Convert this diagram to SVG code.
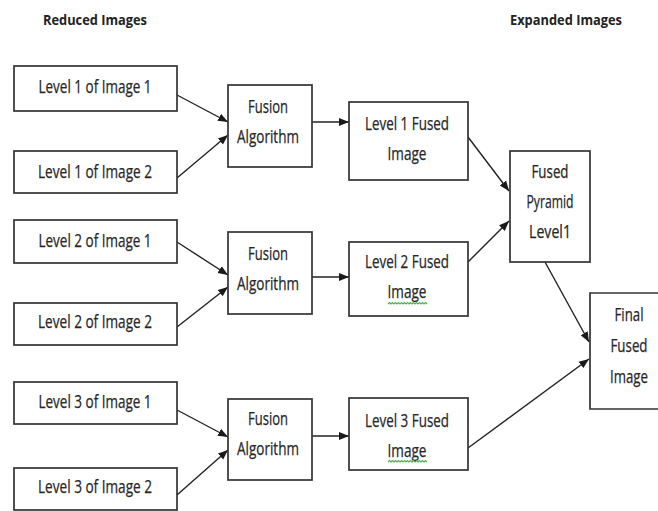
<svg xmlns="http://www.w3.org/2000/svg" width="658" height="511" viewBox="0 0 658 511">
  <defs>
    <marker id="arrow" markerUnits="userSpaceOnUse" markerWidth="10" markerHeight="10" viewBox="0 0 10 10" refX="10" refY="5" orient="auto">
      <path d="M0,1 L10,5 L0,9 Z" fill="#1a1a1a"/>
    </marker>
    <style>
      .box { fill: #ffffff; stroke: #333333; stroke-width: 1.7; }
      .lbl { font-family: "Open Sans", "Liberation Sans", sans-serif; font-size: 17.5px; fill: #262626; stroke: #262626; stroke-width: 0.25; text-anchor: middle; }
      .hdr { font-family: "Open Sans", "Liberation Sans", sans-serif; font-size: 14px; font-weight: bold; fill: #222222; }
      .edge { fill: none; stroke: #222222; stroke-width: 1.4; marker-end: url(#arrow); }
      .squiggle { fill: none; stroke: #4caf50; stroke-width: 1.1; }
    </style>
  </defs>
  <rect width="658" height="511" fill="#ffffff"/>

  <!-- column headers -->
  <text class="hdr" x="43" y="25" textLength="104" lengthAdjust="spacingAndGlyphs">Reduced Images</text>
  <text class="hdr" x="510" y="25" textLength="112" lengthAdjust="spacingAndGlyphs">Expanded Images</text>

  <!-- connectors -->
  <g id="connectors">
    <path class="edge" d="M177,95 L228,122"/>
    <path class="edge" d="M177,178 L228,135"/>
    <path class="edge" d="M312,122 L349,122"/>
    <path class="edge" d="M468,137 L509,191"/>
    <path class="edge" d="M177,242 L228,275"/>
    <path class="edge" d="M177,327 L228,287"/>
    <path class="edge" d="M312,277 L349,277"/>
    <path class="edge" d="M468,262 L509,221"/>
    <path class="edge" d="M545,262 L589,342"/>
    <path class="edge" d="M177,410 L228,437"/>
    <path class="edge" d="M177,495 L228,450"/>
    <path class="edge" d="M312,436 L349,436"/>
    <path class="edge" d="M468,448 L589,359"/>
  </g>

  <!-- level 1 -->
  <g id="l1-img1">
    <rect class="box" x="14" y="66" width="163" height="45"/>
    <text class="lbl" x="95" y="93" textLength="113" lengthAdjust="spacingAndGlyphs">Level 1 of Image 1</text>
  </g>
  <g id="l1-img2">
    <rect class="box" x="14" y="151" width="163" height="42"/>
    <text class="lbl" x="95" y="178" textLength="114" lengthAdjust="spacingAndGlyphs">Level 1 of Image 2</text>
  </g>
  <g id="fusion1">
    <rect class="box" x="228" y="85" width="84" height="82"/>
    <text class="lbl" x="268" y="113" textLength="40" lengthAdjust="spacingAndGlyphs">Fusion</text>
    <text class="lbl" x="268" y="143" textLength="62" lengthAdjust="spacingAndGlyphs">Algorithm</text>
  </g>
  <g id="l1-fused">
    <rect class="box" x="349" y="102" width="119" height="78"/>
    <text class="lbl" x="407" y="130" textLength="84" lengthAdjust="spacingAndGlyphs">Level 1 Fused</text>
    <text class="lbl" x="407" y="160" textLength="39" lengthAdjust="spacingAndGlyphs">Image</text>
  </g>

  <!-- level 2 -->
  <g id="l2-img1">
    <rect class="box" x="14" y="220" width="163" height="43"/>
    <text class="lbl" x="95" y="247" textLength="113" lengthAdjust="spacingAndGlyphs">Level 2 of Image 1</text>
  </g>
  <g id="l2-img2">
    <rect class="box" x="14" y="303" width="163" height="42"/>
    <text class="lbl" x="95" y="328" textLength="114" lengthAdjust="spacingAndGlyphs">Level 2 of Image 2</text>
  </g>
  <g id="fusion2">
    <rect class="box" x="228" y="232" width="84" height="82"/>
    <text class="lbl" x="268" y="260" textLength="40" lengthAdjust="spacingAndGlyphs">Fusion</text>
    <text class="lbl" x="268" y="290" textLength="62" lengthAdjust="spacingAndGlyphs">Algorithm</text>
  </g>
  <g id="l2-fused">
    <rect class="box" x="349" y="242" width="119" height="74"/>
    <text class="lbl" x="407" y="268" textLength="84" lengthAdjust="spacingAndGlyphs">Level 2 Fused</text>
    <text class="lbl" x="407" y="298" textLength="39" lengthAdjust="spacingAndGlyphs">Image</text>
    <!-- spell-check wave under the word -->
    <path class="squiggle" d="M388,304 l1.5,-1.5 l1.5,1.5 l1.5,-1.5 l1.5,1.5 l1.5,-1.5 l1.5,1.5 l1.5,-1.5 l1.5,1.5 l1.5,-1.5 l1.5,1.5 l1.5,-1.5 l1.5,1.5 l1.5,-1.5 l1.5,1.5 l1.5,-1.5 l1.5,1.5 l1.5,-1.5 l1.5,1.5 l1.5,-1.5 l1.5,1.5 l1.5,-1.5 l1.5,1.5 l1.5,-1.5 l1.5,1.5 l1.5,-1.5 l1.5,1.5"/>
  </g>

  <!-- level 3 -->
  <g id="l3-img1">
    <rect class="box" x="14" y="382" width="163" height="42"/>
    <text class="lbl" x="95" y="408" textLength="113" lengthAdjust="spacingAndGlyphs">Level 3 of Image 1</text>
  </g>
  <g id="l3-img2">
    <rect class="box" x="14" y="468" width="163" height="42"/>
    <text class="lbl" x="95" y="493" textLength="114" lengthAdjust="spacingAndGlyphs">Level 3 of Image 2</text>
  </g>
  <g id="fusion3">
    <rect class="box" x="228" y="399" width="84" height="81"/>
    <text class="lbl" x="268" y="425" textLength="40" lengthAdjust="spacingAndGlyphs">Fusion</text>
    <text class="lbl" x="268" y="455" textLength="62" lengthAdjust="spacingAndGlyphs">Algorithm</text>
  </g>
  <g id="l3-fused">
    <rect class="box" x="349" y="398" width="119" height="72"/>
    <text class="lbl" x="407" y="427" textLength="84" lengthAdjust="spacingAndGlyphs">Level 3 Fused</text>
    <text class="lbl" x="407" y="457" textLength="39" lengthAdjust="spacingAndGlyphs">Image</text>
    <path class="squiggle" d="M388,462 l1.5,-1.5 l1.5,1.5 l1.5,-1.5 l1.5,1.5 l1.5,-1.5 l1.5,1.5 l1.5,-1.5 l1.5,1.5 l1.5,-1.5 l1.5,1.5 l1.5,-1.5 l1.5,1.5 l1.5,-1.5 l1.5,1.5 l1.5,-1.5 l1.5,1.5 l1.5,-1.5 l1.5,1.5 l1.5,-1.5 l1.5,1.5 l1.5,-1.5 l1.5,1.5 l1.5,-1.5 l1.5,1.5 l1.5,-1.5 l1.5,1.5"/>
  </g>

  <!-- expanded side -->
  <g id="pyramid-level1">
    <rect class="box" x="510" y="151" width="80" height="111"/>
    <text class="lbl" x="550" y="178" textLength="37" lengthAdjust="spacingAndGlyphs">Fused</text>
    <text class="lbl" x="550" y="208" textLength="47" lengthAdjust="spacingAndGlyphs">Pyramid</text>
    <text class="lbl" x="550" y="238" textLength="42" lengthAdjust="spacingAndGlyphs">Level1</text>
  </g>
  <g id="final-fused">
    <!-- box runs off the right edge: top, left and bottom sides only -->
    <path class="box" d="M658,293 H590 V409 H658"/>
    <text class="lbl" x="629" y="321" textLength="29" lengthAdjust="spacingAndGlyphs">Final</text>
    <text class="lbl" x="629" y="352" textLength="37" lengthAdjust="spacingAndGlyphs">Fused</text>
    <text class="lbl" x="629" y="383" textLength="38" lengthAdjust="spacingAndGlyphs">Image</text>
  </g>
</svg>
